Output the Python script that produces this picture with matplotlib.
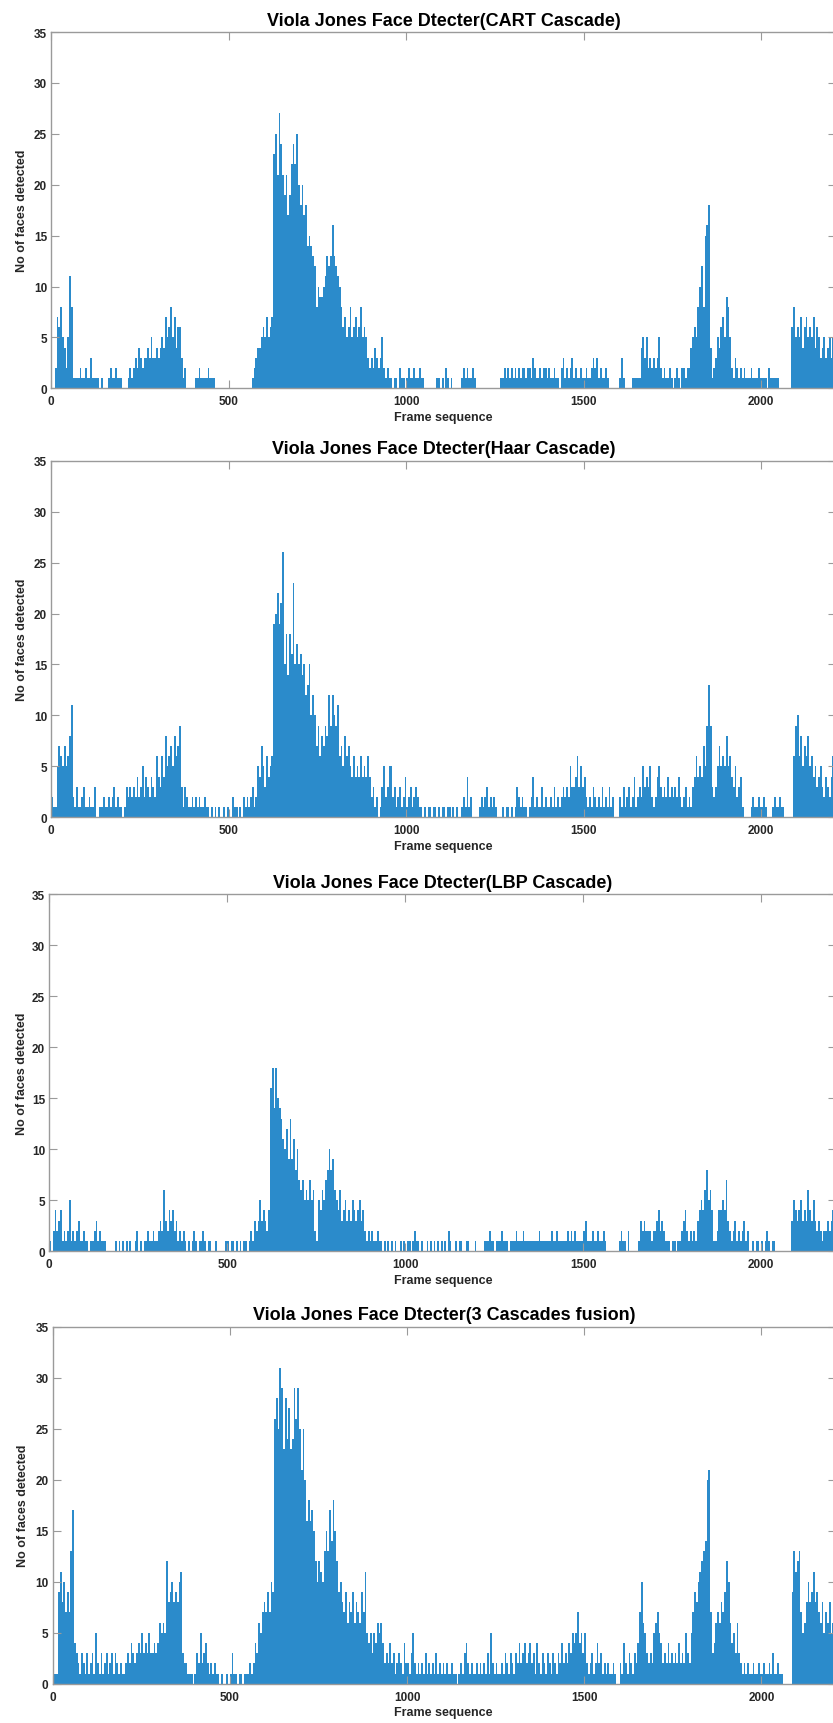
import numpy as np
import matplotlib
matplotlib.use("Agg")
import matplotlib.pyplot as plt

plt.rcParams['font.family'] = ['Liberation Sans', 'DejaVu Sans']
plt.rcParams['font.weight'] = 'bold'

# Face counts, one character per 5-frame bin (base-36 digits), 100 frames per chunk
BIN = 5

cart_counts = [
    "0027685425b811112112", "11311110100012112111", "00012123243233435334",
    "34547568574663120000", "01121111211100000000", "00000000000001234456",
    "57567nplroljlhjmompk", "ikhiefedc8a99abdcdgd", "cba86756856756856532",
    "32432352121101102110", "12112112110000000110", "10210100000121211210",
    "00000000000001121212", "12121221221321121221", "21121102312123121121",
    "12112323121121000000", "13100001111145352323", "23521211210121022122",
    "45658ac8fgi412354675", "98521321212111211121", "11102111110000000685",
    "65746756574653453453", "5",
]

haar_counts = [
    "21157657568b21311231", "12113001121121231211", "01323232423524324326",
    "43648567586793132112", "12121121101010100101", "00211010212123125475",
    "36456jkmjlqfieignfhf", "gefcdfaca7968798c9ca", "9b675867546454645464",
    "23120135235523123124", "12312321101011011010", "11011010100121412000",
    "01212312121000101101", "01321211012412113121", "12131212323253346353",
    "42121321213121312000", "21312312412325343521", "24532324232324212312",
    "1346454759d932357565", "85643523410000121121", "12100012112110000069",
    "a6857685645345324324", "6",
]

lbp_counts = [
    "10242341212512123112", "11011231211100000101", "01010100120101121121",
    "12326324342312121010", "12101121011001000001", "10110101011012132353",
    "4324gieifedbac9d9b8a", "76756575621546578a89", "65463453435434534212",
    "12112110101010100101", "01101211010010101010", "10102100101100110001",
    "00001112110111211101", "11211121111111121111", "11211211111212121111",
    "23111211211210000000", "12110200000132322212", "23423211101101123421",
    "21213454685641124454", "73212312123120010110", "10121011000000000354",
    "34534364353232122323", "4",
]

fusion_counts = [
    "2119b8a797dh43213213", "12315213123123132121", "12324323435343533434",
    "6565c89a898ab3221110", "13252342121211010010", "13110110111212436578",
    "797a9qspvtnsornotqtp", "lpkgighfcacbadfdheif", "c9a8796879687697b545",
    "35465642324231232142", "21352121213121213121", "21211211012134212112",
    "12121315212112132132", "13242342342314213213", "21321324232435457453",
    "52123124231212112100", "214213213247a6532325", "67542324232324232532",
    "5798abcdekl734676879", "ca645363212121121121", "121121311211000009db",
    "cd7568a89b8976857685", "6",
]

titles = [
    "Viola Jones Face Dtecter(CART Cascade)",
    "Viola Jones Face Dtecter(Haar Cascade)",
    "Viola Jones Face Dtecter(LBP Cascade)",
    "Viola Jones Face Dtecter(3 Cascades fusion)",
]
series = [cart_counts, haar_counts, lbp_counts, fusion_counts]

x_ticks = [0, 500, 1000, 1500, 2000]
y_ticks = [0, 5, 10, 15, 20, 25, 30, 35]


def decode(chunks):
    return np.array([int(c, 36) for c in "".join(chunks)], dtype=float)


W, H = 833, 1724
fig = plt.figure(figsize=(W / 100, H / 100), dpi=100)

# panel boxes in pixels: left, top, bottom (right edge runs just past the canvas)
boxes = [
    (51.3, 33.0, 389.3),
    (51.3, 461.7, 818.3),
    (49.3, 895.0, 1252.3),
    (52.7, 1327.7, 1684.7),
]
RIGHT = 835.5
XMAX = 2209

bar_color = '#2b8bcb'
spine_color = '#9a9a9a'
text_color = '#262626'

for (left, top, bottom), chunks, title in zip(boxes, series, titles):
    span = RIGHT - left
    ax = fig.add_axes([left / W, 1 - bottom / H, span / W, (bottom - top) / H])
    vals = decode(chunks)
    frames = np.arange(len(vals)) * BIN + BIN / 2
    ax.bar(frames, vals, width=BIN, color=bar_color, linewidth=0)

    ax.set_xlim(0, XMAX)
    ax.set_ylim(0, 35)
    ax.set_xticks(x_ticks)
    ax.set_yticks(y_ticks)
    ax.tick_params(direction='in', length=5.5, width=0.8, color=spine_color,
                   labelsize=8.5, labelcolor=text_color, top=True, right=True)
    ax.tick_params(axis='x', pad=5)
    ax.tick_params(axis='y', pad=3)
    for lab in ax.get_xticklabels() + ax.get_yticklabels():
        lab.set_fontweight('bold')
    for sp in ax.spines.values():
        sp.set_color(spine_color)
        sp.set_linewidth(1.0)

    ax.set_title(title, fontsize=13, fontweight='bold', color='black', pad=5.3)
    ax.set_xlabel("Frame sequence", fontsize=9, fontweight='bold', color=text_color)
    ax.set_ylabel("No of faces detected", fontsize=9, fontweight='bold', color=text_color)
    h = bottom - top
    ax.xaxis.set_label_coords((443.5 - left) / span, -(412.0 - 389.3) / h)
    ax.yaxis.set_label_coords((28.5 - left) / span, 0.5)

fig.savefig("out.png", dpi=100)
